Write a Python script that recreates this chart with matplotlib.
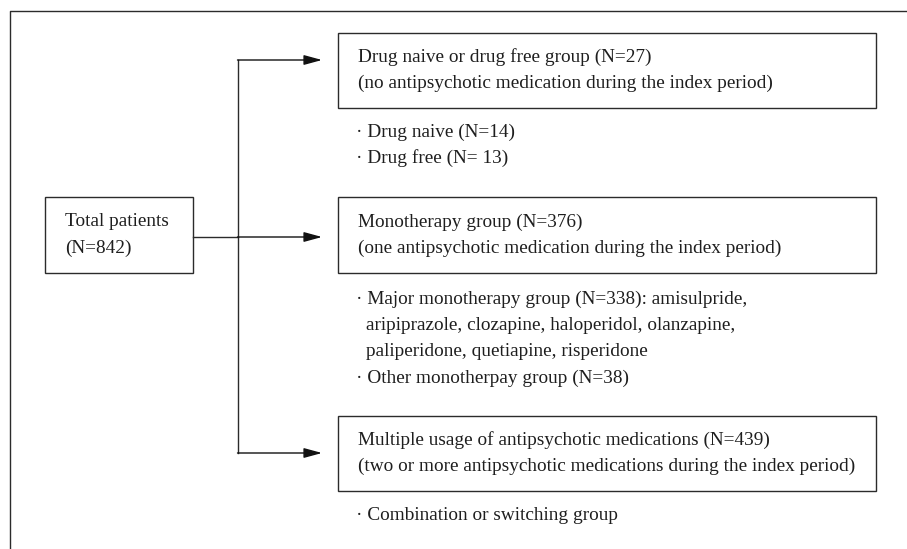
import matplotlib
matplotlib.use("Agg")
import matplotlib.pyplot as plt
from matplotlib.patches import Rectangle

# ---- data (text content) ----
total_lines = ["Total patients", "(N=842)"]
group_titles = [
    ["Drug naive or drug free group (N=27)",
     "(no antipsychotic medication during the index period)"],
    ["Monotherapy group (N=376)",
     "(one antipsychotic medication during the index period)"],
    ["Multiple usage of antipsychotic medications (N=439)",
     "(two or more antipsychotic medications during the index period)"],
]
group_notes = [
    ["· Drug naive (N=14)", "· Drug free (N= 13)"],
    ["· Major monotherapy group (N=338): amisulpride,",
     "aripiprazole, clozapine, haloperidol, olanzapine,",
     "paliperidone, quetiapine, risperidone",
     "· Other monotherpay group (N=38)"],
    ["· Combination or switching group"],
]

# ---- layout (pixel coordinates) ----
W, H = 907, 549
fig = plt.figure(figsize=(W / 100, H / 100), dpi=100)
ax = fig.add_axes([0, 0, 1, 1])
ax.set_xlim(0, W)
ax.set_ylim(H, 0)
ax.axis("off")

FONT = "Liberation Serif"
FS = 13.9
LC = "#2b2b2b"
TC = "#1e1e1e"
LW = 1.0

# outer frame (top and left)
ax.plot([9.5, 9.5, W], [H, 10.5, 10.5], color=LC, lw=LW, solid_capstyle="butt")

def box(x0, y0, x1, y1):
    ax.add_patch(Rectangle((x0, y0), x1 - x0, y1 - y0, fill=False,
                           edgecolor=LC, lw=LW))

def txt(x, y, s):
    ax.text(x, y, s, fontsize=FS, family=FONT, va="center", ha="left", color=TC)

# total box
box(45, 197, 193, 273)
for i, t in enumerate(total_lines):
    txt(65, 222 + 26 * i, t)

# group boxes
boxes_y = [(33, 108), (197, 273), (416, 491)]
arrow_y = [60, 237, 453]
notes_y0 = [132, 299, 516]
LS = 26.5
for (y0, y1), titles, notes, ny in zip(boxes_y, group_titles, group_notes, notes_y0):
    box(338, y0, 876, y1)
    mid = (y0 + y1) / 2
    for i, t in enumerate(titles):
        txt(358, mid - 13 + 26 * i, t)
    for i, t in enumerate(notes):
        if t.startswith("·"):
            txt(356, ny + LS * i, t)
        else:
            txt(366, ny + LS * i, t)

# connectors
vx = 237.5
ax.plot([vx, vx], [arrow_y[0], arrow_y[-1]], color=LC, lw=LW)
ax.plot([193, vx], [arrow_y[1], arrow_y[1]], color=LC, lw=LW)
for y in arrow_y:
    ax.annotate("", xy=(322, y), xytext=(vx, y),
                arrowprops=dict(arrowstyle="-|>,head_length=1.1,head_width=0.3",
                                color="#111111", lw=LW, shrinkA=0, shrinkB=0))

fig.savefig("out.png", dpi=100, facecolor="white")
